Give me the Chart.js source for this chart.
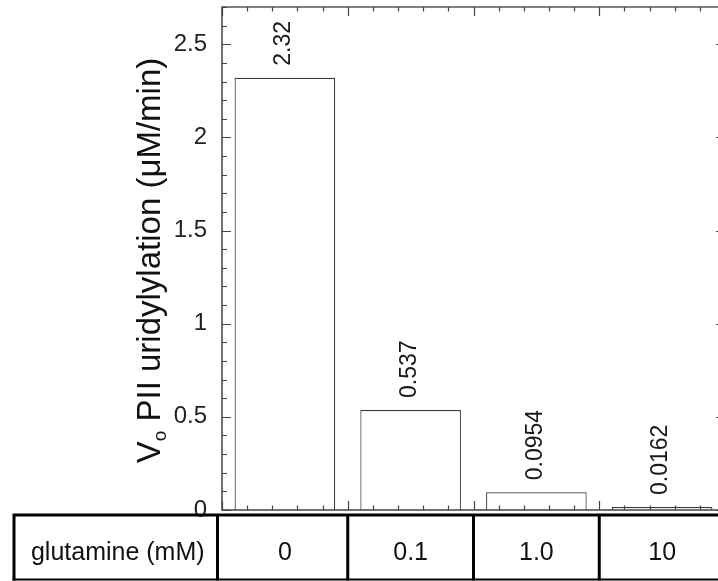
<!DOCTYPE html>
<html>
<head>
<meta charset="utf-8">
<script src="https://cdn.jsdelivr.net/npm/chart.js@4.4.1/dist/chart.umd.min.js"></script>
<style>
  html, body { margin: 0; padding: 0; background: #fff; overflow: hidden; }
  #wrap { width: 740px; height: 581px; }
</style>
</head>
<body>
<div id="wrap"><canvas id="uridChart" width="740" height="581"></canvas></div>
<script>
const glutamine = ['0', '0.1', '1.0', '10'];
const rateValues = [2.32, 0.537, 0.0954, 0.0162];
const yTickLabels = ['0', '0.5', '1', '1.5', '2', '2.5'];
const rowHeader = 'glutamine (mM)';
const yTitleMain = 'V';
const yTitleSub = 'o';
const yTitleRest = ' PII uridylylation (\u03bcM/min)';

const FONT = "'Liberation Sans', Arial, Helvetica, sans-serif";

// box round the plot with inward ticks, minor every 0.1 and every fifth of a column
const frame = {
    id: 'frame',
    afterDatasetsDraw(chart) {
        const { ctx, chartArea: a, scales: { x, y } } = chart;
        ctx.save();
        ctx.lineCap = 'butt';

        ctx.strokeStyle = '#444';
        ctx.lineWidth = 1.5;
        ctx.beginPath();
        ctx.moveTo(a.left, a.top);
        ctx.lineTo(a.left, a.bottom);
        ctx.lineTo(a.right, a.bottom);
        ctx.lineTo(a.right, a.top);
        ctx.stroke();

        ctx.strokeStyle = '#808080';
        ctx.lineWidth = 2;
        ctx.beginPath();
        ctx.moveTo(a.left - 1, a.top);
        ctx.lineTo(a.right, a.top);
        ctx.stroke();

        ctx.strokeStyle = '#444';
        ctx.lineWidth = 1.2;
        ctx.beginPath();
        for (let k = 0; k <= 27; k++) {
            const py = Math.round(y.getPixelForValue(k / 10)) + 0.5;
            const len = k % 5 === 0 ? 9 : 5;
            ctx.moveTo(a.left, py);
            ctx.lineTo(a.left + len, py);
            ctx.moveTo(a.right, py);
            ctx.lineTo(a.right - len, py);
        }
        const step = x.getPixelForValue(1) - x.getPixelForValue(0);
        for (let i = 0; i < glutamine.length; i++) {
            for (let j = 0; j < 5; j++) {
                const px = Math.round(x.getPixelForValue(i) - step / 2 + j * step / 5) + 0.5;
                const len = j === 0 ? 9 : 4.5;
                ctx.moveTo(px, a.top);
                ctx.lineTo(px, a.top + len);
                ctx.moveTo(px, a.bottom);
                ctx.lineTo(px, a.bottom - len);
            }
        }
        ctx.stroke();
        ctx.restore();
    }
};

// rotated value above each bar
const barValues = {
    id: 'barValues',
    afterDatasetsDraw(chart) {
        const { ctx } = chart;
        const meta = chart.getDatasetMeta(0);
        ctx.save();
        ctx.fillStyle = '#1a1a1a';
        ctx.font = '23px ' + FONT;
        ctx.textAlign = 'left';
        ctx.textBaseline = 'middle';
        meta.data.forEach((bar, i) => {
            ctx.save();
            ctx.translate(bar.x - 1, bar.y - 12);
            ctx.rotate(-Math.PI / 2);
            ctx.fillText(String(rateValues[i]), 0, 0);
            ctx.restore();
        });
        ctx.restore();
    }
};

// y title with subscript, and the glutamine table under the axis
const extras = {
    id: 'extras',
    afterDraw(chart) {
        const { ctx, chartArea: a, scales: { x }, width } = chart;
        ctx.save();

        // y axis title
        ctx.fillStyle = '#111';
        ctx.textBaseline = 'alphabetic';
        ctx.textAlign = 'left';
        const big = '33px ' + FONT;
        const small = '19px ' + FONT;
        ctx.font = big;
        const wMain = ctx.measureText(yTitleMain).width;
        const wRest = ctx.measureText(yTitleRest).width;
        ctx.font = small;
        const wSub = ctx.measureText(yTitleSub).width;
        const total = wMain + wSub + wRest;
        ctx.save();
        ctx.translate(160, (a.top + a.bottom) / 2 + 2);
        ctx.rotate(-Math.PI / 2);
        let u = -total / 2;
        ctx.font = big;
        ctx.fillText(yTitleMain, u, 0);
        u += wMain;
        ctx.font = small;
        ctx.fillText(yTitleSub, u, 6);
        u += wSub;
        ctx.font = big;
        ctx.fillText(yTitleRest, u, 0);
        ctx.restore();

        // table lines
        const step = x.getPixelForValue(1) - x.getPixelForValue(0);
        const top = 515, bottom = 579.5;
        const headRight = a.left - 4.5;
        ctx.strokeStyle = '#000';
        ctx.lineWidth = 3;
        ctx.beginPath();
        ctx.moveTo(12.5, top);
        ctx.lineTo(width, top);
        ctx.moveTo(14, top);
        ctx.lineTo(14, bottom + 1);
        ctx.moveTo(headRight, top);
        ctx.lineTo(headRight, bottom + 1);
        for (let i = 1; i <= glutamine.length; i++) {
            const px = x.getPixelForValue(i - 1) + step / 2;
            ctx.moveTo(px, top);
            ctx.lineTo(px, bottom + 1);
        }
        ctx.stroke();
        ctx.lineWidth = 2;
        ctx.beginPath();
        ctx.moveTo(12.5, bottom);
        ctx.lineTo(width, bottom);
        ctx.stroke();

        ctx.font = '25px ' + FONT;
        ctx.textAlign = 'center';
        ctx.textBaseline = 'middle';
        ctx.fillText(rowHeader, (14 + headRight) / 2 + 2, 553);
        ctx.restore();
    }
};

const ctx = document.getElementById('uridChart').getContext('2d');
const uridChart = new Chart(ctx, {
    type: 'bar',
    data: {
        labels: glutamine,
        datasets: [{
            data: rateValues,
            backgroundColor: '#ffffff',
            borderColor: '#3a3a3a',
            borderWidth: 1.2,
            barPercentage: 0.8,
            categoryPercentage: 1.0
        }]
    },
    options: {
        responsive: false,
        animation: false,
        layout: {
            padding: { left: 0, top: 7, right: 15, bottom: 0 }
        },
        scales: {
            x: {
                grid: { display: false, drawTicks: false },
                border: { display: false },
                ticks: {
                    color: '#111',
                    padding: 28,
                    font: { family: FONT, size: 25 }
                },
                afterFit(scale) {
                    scale.height = 71;
                    scale.paddingLeft = 0;
                    scale.paddingRight = 0;
                }
            },
            y: {
                min: 0,
                max: 2.7,
                grid: { display: false, drawTicks: false },
                border: { display: false },
                ticks: {
                    stepSize: 0.5,
                    includeBounds: false,
                    padding: 15,
                    color: '#222',
                    font: { family: FONT, size: 24 },
                    callback: value => yTickLabels[Math.round(value / 0.5)] ?? ''
                },
                afterFit(scale) {
                    scale.width = 222;
                    scale.paddingTop = 0;
                    scale.paddingBottom = 0;
                }
            }
        },
        plugins: {
            legend: { display: false },
            tooltip: { enabled: false }
        }
    },
    plugins: [frame, barValues, extras]
});
</script>
</body>
</html>
